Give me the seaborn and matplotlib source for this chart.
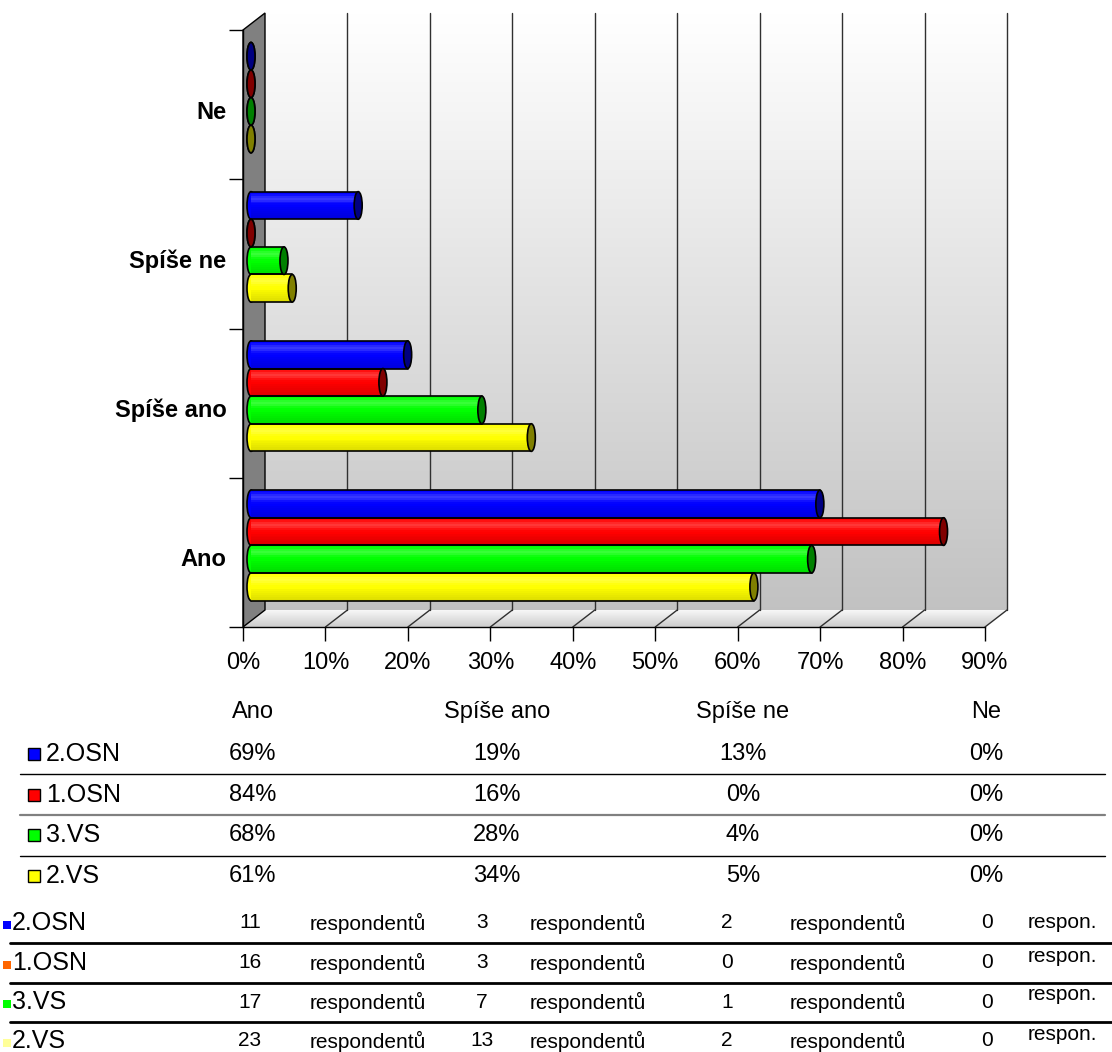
import numpy as np
import pandas as pd
import matplotlib
matplotlib.use("Agg")
import matplotlib.pyplot as plt
import matplotlib.transforms as mtransforms
from matplotlib.patches import Rectangle, Polygon, Ellipse
import seaborn as sns

# answers shown on the y axis (top to bottom) and in the table columns
categories = ["Ne", "Spíše ne", "Spíše ano", "Ano"]
answer_cols = ["Ano", "Spíše ano", "Spíše ne", "Ne"]
groups = ["2.OSN", "1.OSN", "3.VS", "2.VS"]

# share of answers in % (order of answer_cols)
pct_2osn = [69, 19, 13, 0]
pct_1osn = [84, 16, 0, 0]
pct_3vs = [68, 28, 4, 0]
pct_2vs = [61, 34, 5, 0]

# number of respondents (order of answer_cols)
n_2osn = [11, 3, 2, 0]
n_1osn = [16, 3, 0, 0]
n_3vs = [17, 7, 1, 0]
n_2vs = [23, 13, 2, 0]

bar_colors = ["#0000FF", "#FF0000", "#00FF00", "#FFFF00"]
count_colors = ["#0000FF", "#FF6600", "#00FF00", "#FFFF99"]
x_ticks = [0, 10, 20, 30, 40, 50, 60, 70, 80, 90]

pct_rows = [pct_2osn, pct_1osn, pct_3vs, pct_2vs]
n_rows = [n_2osn, n_1osn, n_3vs, n_2vs]

sns.set_theme(style="white")
plt.rcParams["font.family"] = ["Liberation Sans", "DejaVu Sans"]
plt.rcParams["text.color"] = "black"
plt.rcParams["axes.labelcolor"] = "black"
plt.rcParams["xtick.color"] = "black"
plt.rcParams["ytick.color"] = "black"

W, H = 1112, 1052
fig = plt.figure(figsize=(W / 100, H / 100), dpi=100)

# full-figure layer in pixel units for the 3D walls and the tables
bg = fig.add_axes([0, 0, 1, 1], zorder=0)
bg.set_xlim(0, W)
bg.set_ylim(H, 0)
bg.axis("off")

X0, X90 = 243, 985          # front plane: 0 % and 90 %
YT, YB = 30, 627            # front plane: top and bottom
DX, DY = 22, 17             # depth of the 3D box
step = (X90 - X0) / 9

# back wall with vertical gradient
grad = np.linspace(1.0, 0.76, 200)
wall = np.dstack([grad, grad, grad]).reshape(200, 1, 3)
bg.imshow(wall, extent=(X0 + DX, X90 + DX, YB - DY, YT - DY), aspect="auto",
          interpolation="bilinear", zorder=0)

# floor
floor_poly = Polygon([(X0, YB), (X90, YB), (X90 + DX, YB - DY), (X0 + DX, YB - DY)],
                     closed=True, facecolor="none", edgecolor="none")
bg.add_patch(floor_poly)
fgrad = np.linspace(0.97, 0.80, 50)
floor_img = np.dstack([fgrad, fgrad, fgrad]).reshape(50, 1, 3)
im = bg.imshow(floor_img, extent=(X0, X90 + DX, YB, YB - DY), aspect="auto",
               interpolation="bilinear", zorder=0.5)
im.set_clip_path(floor_poly)

# left side wall
bg.add_patch(Polygon([(X0, YT), (X0 + DX, YT - DY), (X0 + DX, YB - DY), (X0, YB)],
                     closed=True, facecolor="#808080", edgecolor="black", lw=1, zorder=1))

# gridlines on the back wall and on the floor
for k in range(1, 10):
    xb = X0 + DX + k * step
    bg.plot([xb, xb], [YT - DY, YB - DY], color="#303030", lw=1, zorder=1)
    bg.plot([X0 + k * step, xb], [YB, YB - DY], color="#303030", lw=1, zorder=1)

bg.set_xlim(0, W)
bg.set_ylim(H, 0)

# main chart axes on the front plane
ax = fig.add_axes([X0 / W, 1 - YB / H, (X90 - X0) / W, (YB - YT) / H], zorder=1)
ax.patch.set_alpha(0)

records = []
for g, vals in zip(groups, pct_rows):
    for c, v in zip(answer_cols, vals):
        records.append({"skupina": g, "odpoved": c, "podil": v})
df = pd.DataFrame(records)

sns.barplot(data=df, x="podil", y="odpoved", hue="skupina", order=categories,
            hue_order=groups, palette=bar_colors, saturation=1, width=0.74,
            orient="h", legend=False, ax=ax, edgecolor="none", linewidth=0)

ax.set_xlim(0, 90)
ax.set_ylim(3.5, -0.5)

shift = mtransforms.ScaledTranslation(8 / 100, 7 / 100, fig.dpi_scale_trans)
tr = ax.transData + shift
capw = 8 / step * 10   # cap width in data units (8 px)

prof_n = 14
for p in list(ax.patches):
    p.set_transform(tr)
    p.set_zorder(3)
    x0, w = p.get_x(), p.get_width()
    y0, h = p.get_y(), p.get_height()
    fc = np.array(p.get_facecolor())
    dark = (fc[0] * 0.5, fc[1] * 0.5, fc[2] * 0.5, 1)
    # rounded left end
    ax.add_patch(Ellipse((x0, y0 + h / 2), capw, h, facecolor=fc, edgecolor="black",
                         lw=1.2, transform=tr, zorder=2.9))
    # cylinder shading
    for i in range(prof_n):
        t = (i + 0.5) / prof_n
        wa = 0.22 * np.exp(-((t - 0.25) / 0.13) ** 2)
        ba = 0.14 * max(0.0, t - 0.5) * 2
        if wa > 0.01:
            ax.add_patch(Rectangle((x0, y0 + h * i / prof_n), w, h / prof_n, facecolor="white",
                                   alpha=wa, lw=0, transform=tr, zorder=3.1))
        if ba > 0.01:
            ax.add_patch(Rectangle((x0, y0 + h * i / prof_n), w, h / prof_n, facecolor="black",
                                   alpha=ba, lw=0, transform=tr, zorder=3.1))
    # outline along the cylinder
    ax.plot([x0, x0 + w], [y0, y0], color="black", lw=1.2, transform=tr, zorder=3.2)
    ax.plot([x0, x0 + w], [y0 + h, y0 + h], color="black", lw=1.2, transform=tr, zorder=3.2)
    # end cap
    ax.add_patch(Ellipse((x0 + w, y0 + h / 2), capw, h, facecolor=dark, edgecolor="black",
                         lw=1.2, transform=tr, zorder=3.3))

for s in ["top", "right"]:
    ax.spines[s].set_visible(False)
for s in ["left", "bottom"]:
    ax.spines[s].set_color("black")
    ax.spines[s].set_linewidth(1)

ax.set_xticks(x_ticks)
ax.set_xticklabels([f"{v}%" for v in x_ticks], fontsize=17, color="black")
ax.tick_params(axis="x", length=10, width=1, color="black", direction="out", pad=8, bottom=True)
ax.set_yticks(range(len(categories)))
ax.set_yticklabels(categories, fontsize=17, fontweight="bold", color="black")
ax.set_yticks([-0.5, 0.5, 1.5, 2.5, 3.5], minor=True)
ax.tick_params(axis="y", which="major", length=0, pad=12, left=False)
ax.tick_params(axis="y", which="minor", length=10, width=1, color="black", direction="out", left=True)
lbl_shift = mtransforms.ScaledTranslation(0, -5 / 100, fig.dpi_scale_trans)
for lab in ax.get_yticklabels():
    lab.set_transform(lab.get_transform() + lbl_shift)
ax.set_xlabel("")
ax.set_ylabel("")
ax.grid(False)

# data table with percentages
col_x = [253, 497, 743, 986]
for c, x in zip(answer_cols, col_x):
    bg.text(x, 712, c, ha="center", va="center", fontsize=17, color="black")
rows_y = [754, 795, 835, 876]
for g, col, vals, y in zip(groups, bar_colors, pct_rows, rows_y):
    bg.add_patch(Rectangle((28, y - 6), 12, 12, facecolor=col, edgecolor="black", lw=1))
    bg.text(46, y, g, ha="left", va="center", fontsize=18, color="black")
    for v, x in zip(vals, col_x):
        bg.text(x, y, f"{v}%", ha="center", va="center", fontsize=17, color="black")
bg.plot([20, 1105], [774, 774], color="black", lw=1)
bg.plot([20, 1105], [815, 815], color="#808080", lw=1.6)
bg.plot([20, 1105], [856, 856], color="black", lw=1)

# respondent counts
cnt_x = [250, 482, 727, 987]
word_x = [310, 530, 790]
rows2_y = [923, 963, 1002, 1041]
for r, (g, col, vals, y) in enumerate(zip(groups, count_colors, n_rows, rows2_y)):
    bg.add_patch(Rectangle((3, y - 2), 8, 8, facecolor=col, edgecolor="none"))
    bg.text(12, y, g, ha="left", va="center", fontsize=18, color="black")
    for v, x in zip(vals, cnt_x):
        bg.text(x, y, str(v), ha="center", va="center", fontsize=15, color="black")
    for x in word_x:
        bg.text(x, y, "respondentů", ha="left", va="center", fontsize=15, color="black")
    bg.text(1028, y - (7 if r > 0 else 0), "respon.", ha="left", va="center", fontsize=15,
            color="black")
for y in [943, 983, 1022]:
    bg.plot([10, 1112], [y, y], color="black", lw=2)

fig.savefig("out.png", dpi=100)
